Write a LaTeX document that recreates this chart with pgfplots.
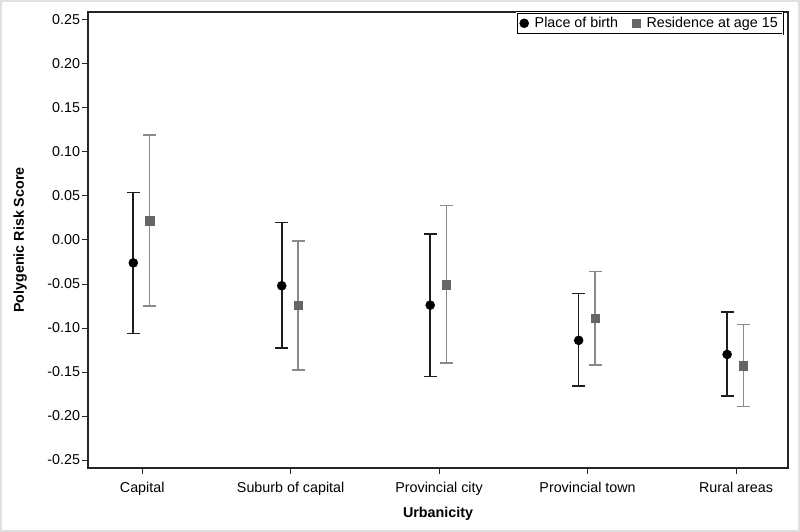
\documentclass[border=0pt]{standalone}
\usepackage{pgfplots}
\pgfplotsset{compat=1.18}
\usepackage{fontspec}
\setmainfont{Liberation Sans}
\definecolor{pobbar}{HTML}{1E1E1E}
\definecolor{resmark}{HTML}{666666}
\definecolor{resbar}{HTML}{8A8A8A}
\pgfplotstableread{
x y ep em
-0.06 -0.026 0.080 0.080
0.94 -0.052 0.072 0.071
1.94 -0.074 0.081 0.081
2.94 -0.114 0.053 0.052
3.94 -0.130 0.048 0.047
}\pob
\pgfplotstableread{
x y ep em
0.05 0.022 0.097 0.097
1.05 -0.074 0.073 0.074
2.05 -0.051 0.090 0.089
3.05 -0.089 0.053 0.053
4.05 -0.143 0.047 0.046
}\res
\begin{document}
\begin{tikzpicture}
\fill[white] (0,0) rectangle (800pt,532pt);
\draw[black!12, line width=2pt] (1pt,1pt) rectangle (799pt,531pt);
\begin{axis}[
 at={(88pt,64pt)}, anchor=south west, scale only axis, width=700pt, height=456pt,
 xmin=-0.365, xmax=4.35, ymin=-0.259, ymax=0.259,
 xtick={0,1,2,3,4},
 xticklabels={Capital,Suburb of capital,Provincial city,Provincial town,Rural areas},
 ytick={-0.25,-0.2,-0.15,-0.1,-0.05,0,0.05,0.1,0.15,0.2,0.25},
 yticklabel style={/pgf/number format/fixed, /pgf/number format/fixed zerofill, /pgf/number format/precision=2, /pgf/number format/assume math mode=true, xshift=1.5pt},
 xticklabel style={yshift=-5pt},
 tick align=outside, tick pos=left, major tick length=6pt,
 tick style={black!85, line width=1pt},
 axis line style={line width=1.3pt, black!85},
 ticklabel style={font=\fontsize{14.3}{16}\selectfont},
 xlabel={Urbanicity}, ylabel={Polygenic Risk Score},
 label style={font=\bfseries\fontsize{14.3}{16}\selectfont},
 x label style={at={(axis description cs:0.5,-0.101)}, anchor=center},
 y label style={at={(axis description cs:-0.097,0.5)}, anchor=center},
 legend columns=2,
 legend style={at={(rel axis cs:0.993,1)}, anchor=north east, draw=black, line width=0.7pt, double=white, double distance=1pt,
   font=\fontsize{14.3}{16}\selectfont, inner sep=3pt,
   /tikz/every odd column/.append style={column sep=4pt},
   /tikz/every even column/.append style={column sep=12pt}},
 legend cell align=left,
]
\addplot[only marks, mark=*, mark size=4.5pt, draw=black, fill=black, mark options={fill=black, draw=black, line width=0.5pt},
 error bars/.cd, y dir=both, y explicit,
 error bar style={pobbar, line width=1.6pt},
 error mark options={rotate=90, mark size=6.5pt, pobbar, line width=1.6pt}]
 table[x=x, y=y, y error plus=ep, y error minus=em] {\pob};
\addlegendentry{Place of birth}
\addplot[only marks, mark=square*, mark size=4.2pt, draw=resmark, fill=resmark, mark options={fill=resmark, draw=resmark, line width=0.5pt},
 error bars/.cd, y dir=both, y explicit,
 error bar style={resbar, line width=1.6pt},
 error mark options={rotate=90, mark size=6.5pt, resbar, line width=1.6pt}]
 table[x=x, y=y, y error plus=ep, y error minus=em] {\res};
\addlegendentry{Residence at age 15}
\end{axis}
\end{tikzpicture}
\end{document}
